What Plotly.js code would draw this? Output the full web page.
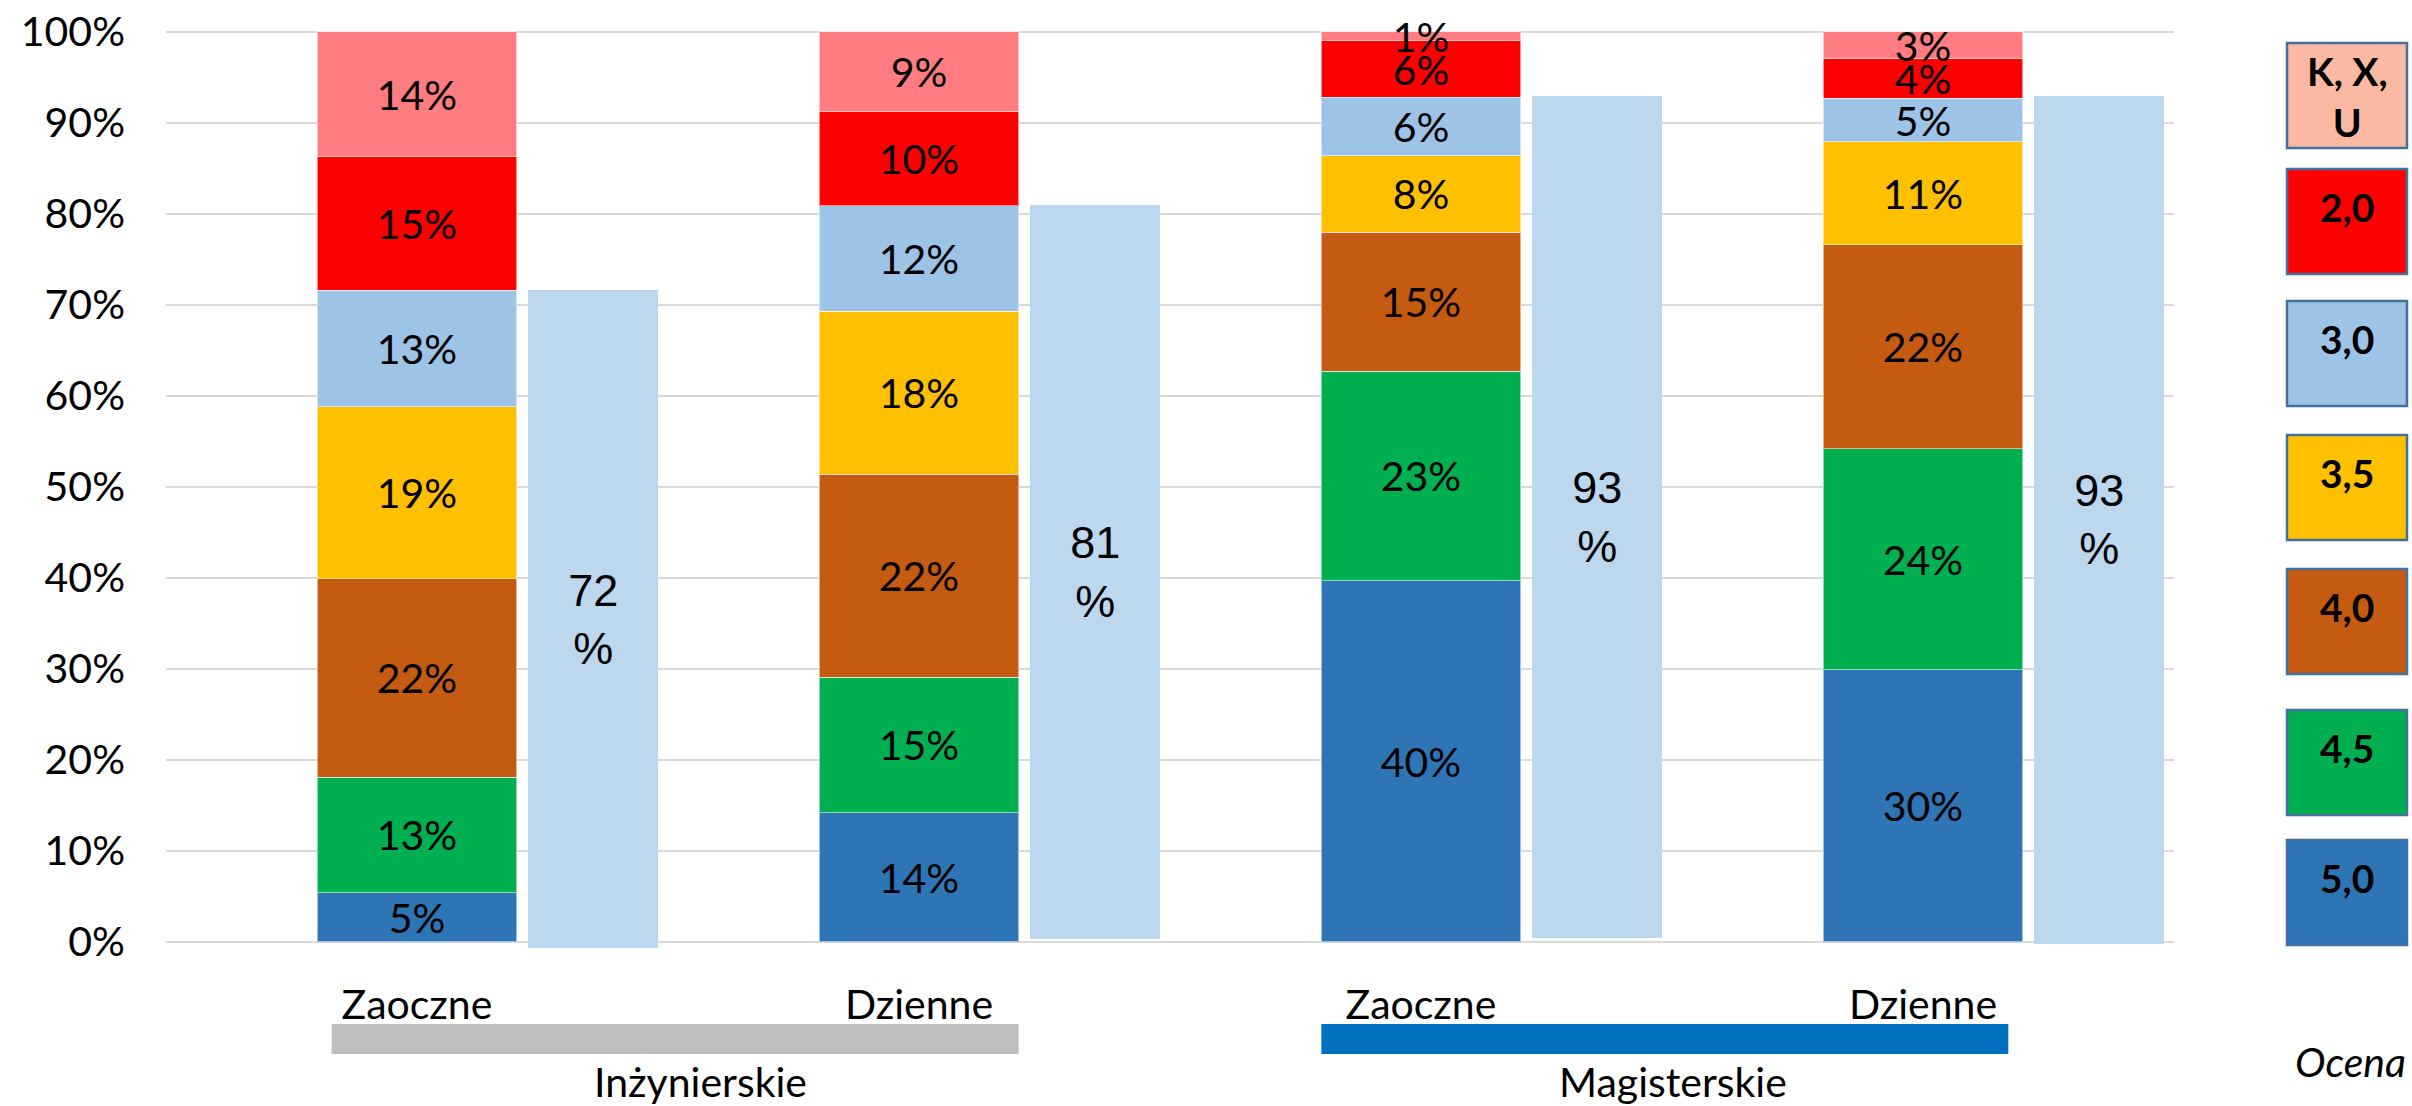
<!DOCTYPE html>
<html>
<head>
<meta charset="utf-8">
<script src="https://cdn.plot.ly/plotly-3.0.1.min.js"></script>
<style>
  html, body { margin: 0; padding: 0; background: #ffffff; }
  #chart { width: 2412px; height: 1106px; }
</style>
</head>
<body>
<div id="chart"></div>
<script>
// ---------------- DATA ----------------
const categories = ['Zaoczne', 'Dzienne', 'Zaoczne', 'Dzienne'];
const groups = ['Inżynierskie', 'Magisterskie'];
const grades = ['5,0', '4,5', '4,0', '3,5', '3,0', '2,0', 'K, X, U'];
const legendText = ['5,0', '4,5', '4,0', '3,5', '3,0', '2,0', 'K, X,<br>U'];
// shares (%) of each grade, per category (bottom to top of stack)
const share50  = [5.4, 14.2, 39.7, 29.9];
const share45  = [12.7, 14.9, 23.0, 24.3];
const share40  = [21.8, 22.3, 15.3, 22.4];
const share35  = [18.9, 17.9, 8.4, 11.3];
const share30  = [12.8, 11.6, 6.4, 4.8];
const share20  = [14.7, 10.3, 6.2, 4.4];
const shareKXU = [13.7, 8.8, 1.0, 2.9];
// pass rate bar (top value) and its drawn base
const passRate = [71.6, 81.0, 93.0, 93.0];
const passBase = [-0.7, 0.3, 0.4, -0.2];

// ---------------- STYLE ----------------
const barColors = ['#2e75b6', '#00b050', '#c55a11', '#ffc000', '#9dc3e6', '#ff0000', '#ff7c80'];
const legendFill = ['#2e75b6', '#00b050', '#c55a11', '#ffc000', '#9dc3e6', '#ff0000', '#fbb9a4'];
const passColor = '#bdd7ee';
const FONT = 'Lato, "Open Sans", "Liberation Sans", sans-serif';
const ARIAL = '"Liberation Sans", Arial, sans-serif';

const W = 2412, H = 1106;
const M = { l: 166, r: 238, t: 30, b: 155 };
const plotW = W - M.l - M.r, plotH = H - M.t - M.b;
const px = v => (v - M.l) / plotW;
const py = v => (H - M.b - v) / plotH;

const shares = [share50, share45, share40, share35, share30, share20, shareKXU];
const xIdx = categories.map((_, i) => i);

const traces = shares.map((vals, k) => ({
  type: 'bar',
  name: grades[k],
  x: xIdx,
  y: vals,
  width: 0.397,
  marker: { color: barColors[k], line: { color: 'rgba(255,255,255,0.55)', width: 1 } },
  texttemplate: '%{y:.0f}%',
  textposition: 'inside',
  insidetextanchor: 'middle',
  textangle: 0,
  constraintext: 'none',
  cliponaxis: false,
  textfont: { family: FONT, size: 41, color: '#000000' },
  hoverinfo: 'skip',
  showlegend: false
}));

traces.push({
  type: 'bar',
  name: 'zdawalność',
  x: xIdx.map(i => i + 0.351),
  y: passRate.map((v, i) => v - passBase[i]),
  base: passBase,
  width: 0.26,
  marker: { color: passColor },
  text: passRate.map(v => Math.round(v) + '<br>%'),
  texttemplate: '%{text}',
  textposition: 'inside',
  insidetextanchor: 'middle',
  textangle: 0,
  constraintext: 'none',
  textfont: { family: ARIAL, size: 45, color: '#000000' },
  hoverinfo: 'skip',
  showlegend: false
});

const shapes = [];
const annotations = [];

// group bars under category labels
const groupBars = [
  { x0: -0.170, x1: 1.1985, color: '#bfbfbf' },
  { x0: 1.8015, x1: 3.170, color: '#0070c0' }
];
const groupLabelX = [0.565, 2.502];
groupBars.forEach((g, i) => {
  shapes.push({
    type: 'rect', xref: 'x', yref: 'paper',
    x0: g.x0, x1: g.x1, y0: py(1054), y1: py(1024),
    fillcolor: g.color, line: { width: 0 }, layer: 'above'
  });
  annotations.push({
    xref: 'x', yref: 'paper', x: groupLabelX[i], y: py(1081),
    xanchor: 'center', yanchor: 'middle', showarrow: false,
    text: groups[i], font: { family: FONT, size: 41, color: '#000000' }
  });
});

// custom legend boxes (top to bottom: K,X,U ... 5,0)
const boxTops = [43, 169, 301, 435, 569, 710, 840];
const boxH = 105;
for (let j = 0; j < 7; j++) {
  const k = 6 - j;
  const top = boxTops[j];
  shapes.push({
    type: 'rect', xref: 'paper', yref: 'paper',
    x0: px(2287), x1: px(2407), y0: py(top + boxH), y1: py(top),
    fillcolor: legendFill[k], line: { color: '#41719c', width: 2.5 }
  });
  const twoLine = legendText[k].indexOf('<br>') >= 0;
  annotations.push({
    xref: 'paper', yref: 'paper', x: px(2347), y: py(top + (twoLine ? 53 : 38)),
    xanchor: 'center', yanchor: 'middle', showarrow: false,
    text: '<b>' + legendText[k] + '</b>',
    font: { family: FONT, size: 39, color: '#000000' }
  });
}
annotations.push({
  xref: 'paper', yref: 'paper', x: px(2350), y: py(1061),
  xanchor: 'center', yanchor: 'middle', showarrow: false,
  text: '<i>Ocena</i>', font: { family: FONT, size: 41, color: '#000000' }
});

const layout = {
  width: W, height: H,
  margin: M,
  paper_bgcolor: '#ffffff', plot_bgcolor: '#ffffff',
  barmode: 'stack',
  bargap: 0,
  showlegend: false,
  font: { family: FONT, size: 41, color: '#000000' },
  xaxis: {
    type: 'linear', range: [-0.5, 3.5],
    tickvals: xIdx, ticktext: categories,
    showgrid: false, zeroline: false, showline: false, ticks: '',
    ticklabelstandoff: 26,
    tickfont: { family: FONT, size: 41, color: '#000000' },
    fixedrange: true
  },
  yaxis: {
    range: [-1, 100.2],
    tick0: 0, dtick: 10,
    ticksuffix: '%',
    showgrid: true, gridcolor: '#d9d9d9', gridwidth: 2,
    zeroline: false, showline: false, ticks: '',
    ticklabelstandoff: 40,
    tickfont: { family: FONT, size: 41, color: '#000000' },
    fixedrange: true
  },
  shapes: shapes,
  annotations: annotations
};

Plotly.newPlot('chart', traces, layout, { displayModeBar: false, staticPlot: true });
</script>
</body>
</html>
